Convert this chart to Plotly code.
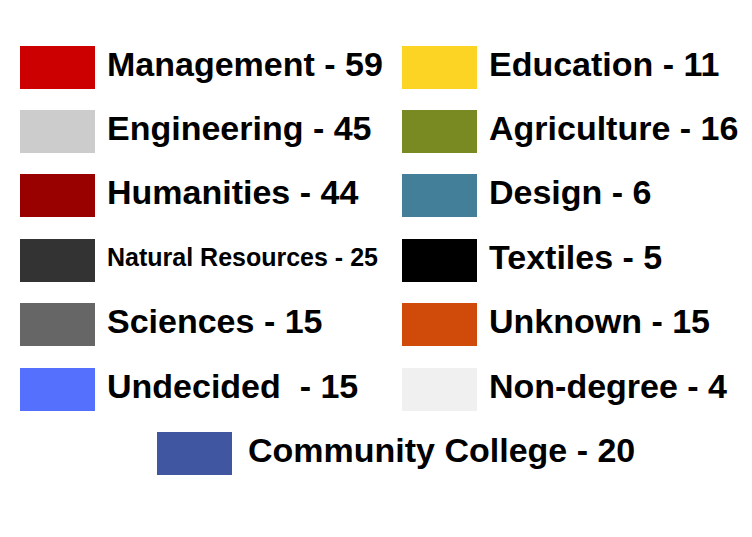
import plotly.graph_objects as go

# ---- data ----
categories = ["Management", "Engineering", "Humanities", "Natural Resources",
              "Sciences", "Undecided ", "Education", "Agriculture", "Design",
              "Textiles", "Unknown", "Non-degree", "Community College"]
counts = [59, 45, 44, 25, 15, 15, 11, 16, 6, 5, 15, 4, 20]
colors = ["#cc0000", "#cccccc", "#990000", "#333333", "#666666", "#5470fd",
          "#fcd424", "#7a8a23", "#437f98", "#000000", "#d04a0a", "#f0f0f0",
          "#4156a0"]
label_sizes = [34, 34, 34, 25, 34, 34, 34, 34, 34, 34, 34, 34, 34]

# ---- layout constants ----
W, H = 752, 537
COL_LEFT = [20, 402]
BOTTOM_LEFT = 157
SW_W, SW_H = 75, 43
ROW0, ROW_STEP = 67, 64.4
GAP, BOTTOM_GAP = 12, 16
PER_COL = 6
FONT = "Liberation Sans, Arial, Helvetica, sans-serif"

sw_cx, sw_cy, txt_x = [], [], []
for i in range(len(categories)):
    if i < 2 * PER_COL:
        left = COL_LEFT[i // PER_COL]
        row = i % PER_COL
        gap = GAP
    else:
        left = BOTTOM_LEFT
        row = PER_COL
        gap = BOTTOM_GAP
    sw_cx.append(left + SW_W / 2)
    sw_cy.append(ROW0 + row * ROW_STEP)
    txt_x.append(left + SW_W + gap)

labels = [f"{c} - {v}".replace("  ", "\u00a0 ") for c, v in zip(categories, counts)]

fig = go.Figure()
fig.add_trace(go.Bar(
    x=sw_cx,
    y=[SW_H] * len(categories),
    base=[cy - SW_H / 2 for cy in sw_cy],
    width=SW_W,
    marker=dict(color=colors, line=dict(width=0)),
    hoverinfo="skip",
    showlegend=False,
))
fig.add_trace(go.Scatter(
    x=txt_x,
    y=sw_cy,
    mode="text",
    text=labels,
    textposition="middle right",
    textfont=dict(family=FONT, size=label_sizes, color="#000000", weight="bold"),
    hoverinfo="skip",
    showlegend=False,
))

fig.update_layout(
    width=W, height=H,
    margin=dict(l=0, r=0, t=0, b=0),
    paper_bgcolor="white", plot_bgcolor="white",
    xaxis=dict(range=[0, W], visible=False, fixedrange=True),
    yaxis=dict(range=[H, 0], visible=False, fixedrange=True),
    bargap=0,
)
fig.write_html("out.html", config={"displayModeBar": False},
               post_script="document.body.style.margin='0';")
